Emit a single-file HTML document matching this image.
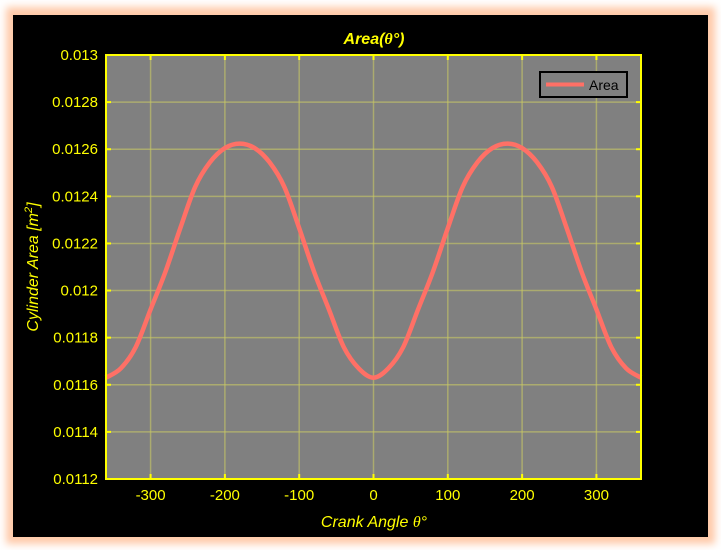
<!DOCTYPE html>
<html><head><meta charset="utf-8"><style>
html,body{margin:0;padding:0;background:#fff;}
svg{display:block;font-family:"Liberation Sans",sans-serif;}
</style></head><body>
<svg id="chart" width="721" height="550" viewBox="0 0 721 550">
<defs><filter id="glow" x="-10%" y="-10%" width="120%" height="120%"><feGaussianBlur stdDeviation="4"/></filter></defs>
<rect x="6" y="7" width="709" height="537" fill="#ffc9a8" filter="url(#glow)"/>
<rect x="13" y="15" width="695" height="522" fill="#000"/>
<rect x="106" y="55" width="535" height="424" fill="#808080"/>
<g id="grid"></g>
<g id="series"></g>
<rect x="106" y="55" width="535" height="424" fill="none" stroke="#ffff00" stroke-width="2"/>
<g id="ticks"></g>
<text x="374" y="44" text-anchor="middle" fill="#ffff00" font-size="16" font-weight="bold" font-style="italic">Area(<tspan font-family="'Liberation Serif',serif">θ</tspan>°)</text>
<text x="374" y="527" text-anchor="middle" fill="#ffff00" font-size="16" font-style="italic">Crank Angle <tspan font-family="'Liberation Serif',serif">θ</tspan>°</text>
<text transform="translate(38,267) rotate(-90)" text-anchor="middle" fill="#ffff00" font-size="16" font-style="italic">Cylinder Area [m<tspan dy="-6" font-size="11">2</tspan><tspan dy="6">]</tspan></text>
<g>
<rect x="540" y="72" width="87" height="25" fill="#808080" stroke="#000" stroke-width="2"/>
<line x1="546" y1="84.5" x2="584" y2="84.5" stroke="#ff7066" stroke-width="4"/>
<text x="589" y="90" fill="#000" font-size="14">Area</text>
</g>
</svg>
<script>
const angles=[-360,-340,-320,-300,-280,-260,-240,-220,-200,-180,-160,-140,-120,-100,-80,-60,-40,-20,0,20,40,60,80,100,120,140,160,180,200,220,240,260,280,300,320,340,360];
const areaValues=[0.01163,0.01167,0.01176,0.01192,0.01208,0.012265,0.01244,0.012545,0.012605,0.012624,0.012605,0.012545,0.01244,0.012265,0.01208,0.01192,0.01176,0.01167,0.01163,0.01167,0.01176,0.01192,0.01208,0.012265,0.01244,0.012545,0.012605,0.012624,0.012605,0.012545,0.01244,0.012265,0.01208,0.01192,0.01176,0.01167,0.01163];
const xTicks=[-300,-200,-100,0,100,200,300];
const yTicks=[0.0112,0.0114,0.0116,0.0118,0.012,0.0122,0.0124,0.0126,0.0128,0.013];
const yTickLabels=["0.0112","0.0114","0.0116","0.0118","0.012","0.0122","0.0124","0.0126","0.0128","0.013"];
const X0=106,X1=641,Y0=479,Y1=55;
const xMin=-360,xMax=360,yMin=0.0112,yMax=0.013;
function xs(v){return X0+(v-xMin)/(xMax-xMin)*(X1-X0);}
function ys(v){return Y0-(v-yMin)/(yMax-yMin)*(Y0-Y1);}
const NS="http://www.w3.org/2000/svg";
const grid=document.getElementById('grid'),ticks=document.getElementById('ticks'),series=document.getElementById('series');
function mk(t,a,p){const e=document.createElementNS(NS,t);for(const k in a)e.setAttribute(k,a[k]);p.appendChild(e);return e;}
xTicks.forEach(v=>{
  const x=xs(v);
  const g=mk('line',{x1:x,y1:Y1,x2:x,y2:Y0,stroke:'#c8c864','stroke-opacity':'0.6','stroke-width':1.5},grid);
  
  
  const t1=mk('line',{x1:x,y1:Y0,x2:x,y2:Y0-5,stroke:'#ffff00','stroke-width':2},ticks);
  
  
  const t2=mk('line',{x1:x,y1:Y1,x2:x,y2:Y1+5,stroke:'#ffff00','stroke-width':2},ticks);
  
  
  const l=mk('text',{x:x,y:500,'text-anchor':'middle',fill:'#ffff00','font-size':15},ticks);
  l.textContent=v;
  
  
});
yTicks.forEach((v,i)=>{
  const y=ys(v);
  const g=mk('line',{x1:X0,y1:y,x2:X1,y2:y,stroke:'#c8c864','stroke-opacity':'0.6','stroke-width':1.5},grid);
  
  
  const t1=mk('line',{x1:X0,y1:y,x2:X0+5,y2:y,stroke:'#ffff00','stroke-width':2},ticks);
  
  
  const t2=mk('line',{x1:X1,y1:y,x2:X1-5,y2:y,stroke:'#ffff00','stroke-width':2},ticks);
  
  
  const l=mk('text',{x:98,y:y+5,'text-anchor':'end',fill:'#ffff00','font-size':15},ticks);
  l.textContent=yTickLabels[i];
  
  
});
const pts=angles.map((a,i)=>[xs(a),ys(areaValues[i])]);
let d='M'+pts[0][0]+','+pts[0][1];
for(let i=0;i<pts.length-1;i++){
  const p0=pts[Math.max(0,i-1)],p1=pts[i],p2=pts[i+1],p3=pts[Math.min(pts.length-1,i+2)];
  const c1=[p1[0]+(p2[0]-p0[0])/6,p1[1]+(p2[1]-p0[1])/6];
  const c2=[p2[0]-(p3[0]-p1[0])/6,p2[1]-(p3[1]-p1[1])/6];
  d+=' C'+c1[0]+','+c1[1]+' '+c2[0]+','+c2[1]+' '+p2[0]+','+p2[1];
}
const path=mk('path',{d:d,fill:'none',stroke:'#ff7066','stroke-width':4.5,'stroke-linejoin':'round'},series);


</script>
</body></html>
